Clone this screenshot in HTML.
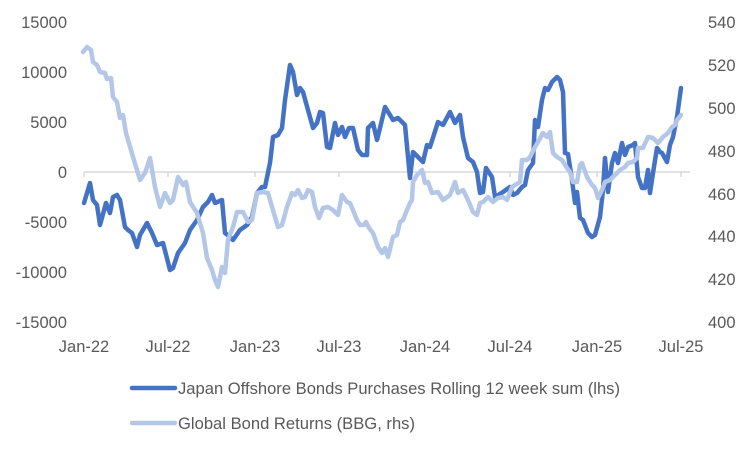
<!DOCTYPE html>
<html><head><meta charset="utf-8"><style>
html,body{margin:0;padding:0;background:#fff;}
svg{display:block;}
text{font-family:"Liberation Sans",sans-serif;fill:#595959;}
</style></head><body>
<svg width="750" height="450" viewBox="0 0 750 450" xmlns="http://www.w3.org/2000/svg">
<rect width="750" height="450" fill="#fff"/>
<g font-size="16.5" text-anchor="end">
<text x="67" y="28">15000</text>
<text x="67" y="78">10000</text>
<text x="67" y="128">5000</text>
<text x="67" y="178">0</text>
<text x="67" y="228">-5000</text>
<text x="67" y="278">-10000</text>
<text x="67" y="328">-15000</text>
</g>
<g font-size="16.5" text-anchor="start">
<text x="708" y="28">540</text>
<text x="708" y="71">520</text>
<text x="708" y="114">500</text>
<text x="708" y="157">480</text>
<text x="708" y="200">460</text>
<text x="708" y="242">440</text>
<text x="708" y="285">420</text>
<text x="708" y="328">400</text>
</g>
<g font-size="16.5" text-anchor="middle">
<text x="84" y="352">Jan-22</text>
<text x="168" y="352">Jul-22</text>
<text x="255" y="352">Jan-23</text>
<text x="339" y="352">Jul-23</text>
<text x="425" y="352">Jan-24</text>
<text x="510" y="352">Jul-24</text>
<text x="597" y="352">Jan-25</text>
<text x="681" y="352">Jul-25</text>
</g>
<g stroke="#D9D9D9" stroke-width="1.5" fill="none">
<line x1="84" y1="172" x2="690" y2="172"/>
<line x1="84" y1="172" x2="84" y2="177"/>
<line x1="168" y1="172" x2="168" y2="177"/>
<line x1="255" y1="172" x2="255" y2="177"/>
<line x1="339" y1="172" x2="339" y2="177"/>
<line x1="425" y1="172" x2="425" y2="177"/>
<line x1="510" y1="172" x2="510" y2="177"/>
<line x1="597" y1="172" x2="597" y2="177"/>
<line x1="681" y1="172" x2="681" y2="177"/>
</g>
<polyline fill="none" stroke="#4472C4" stroke-width="4.5" stroke-linejoin="round" stroke-linecap="round" points="84,203 90,183 93,200 97,205 100,225 106,203 110,213 113,197 117,195 120,200 125,227 128,230 132,233 137,247 140,235 147,223 152,233 157,245 163,243 170,270 173,268 178,253 185,243 190,230 197,220 203,207 208,202 212,195 215,203 222,200 225,233 230,237 233,240 240,230 247,225 252,217 257,193 262,187 265,187 270,163 273,137 278,135 282,128 285,100 290,65 293,72 297,95 300,88 303,92 308,110 313,128 317,123 320,112 323,113 327,147 330,148 335,123 338,135 342,127 345,137 349,128 353,128 358,150 362,155 367,155 368,128 373,123 377,140 380,128 385,107 390,115 393,120 398,118 405,125 410,178 413,152 423,162 427,145 430,147 438,122 443,125 450,112 455,123 460,115 463,137 468,158 473,162 477,172 480,193 483,192 486,168 492,177 495,197 503,192 510,187 513,195 517,193 522,187 525,185 528,170 533,163 535,120 538,127 542,100 545,88 548,90 552,82 557,77 560,80 563,92 565,153 568,154 572,180 575,203 577,192 580,218 583,220 588,233 592,237 595,235 600,217 603,190 605,158 608,192 612,163 615,153 618,163 622,143 625,155 628,147 633,145 635,143 638,177 642,188 645,188 648,170 650,193 653,173 657,148 660,152 662,153 667,162 670,145 673,137 677,117 681,88"/>
<polyline fill="none" stroke="#B4C7E7" stroke-width="4.5" stroke-linejoin="round" stroke-linecap="round" points="83,52 87,47 91,50 93,62 97,65 100,72 105,73 107,79 111,78 113,97 117,102 120,118 123,115 126,133 133,157 140,180 145,173 150,158 155,187 160,207 165,193 170,203 173,200 178,177 183,185 186,182 190,202 197,213 203,233 207,258 212,270 215,280 218,287 222,267 225,273 228,240 233,227 237,212 243,212 248,222 252,220 257,193 263,192 268,193 272,207 278,227 282,225 287,207 292,193 295,195 298,190 302,198 305,197 308,190 312,192 315,207 319,218 323,208 328,207 333,210 338,215 342,195 347,202 350,203 357,220 360,225 364,225 366,222 369,228 373,233 378,247 382,253 385,248 388,257 393,237 397,235 400,222 403,220 407,210 410,203 412,200 413,182 417,175 422,170 425,183 428,182 432,193 438,192 443,200 450,195 455,182 458,193 463,190 468,200 473,212 477,215 480,203 483,202 488,197 493,202 498,198 503,197 507,200 512,187 515,185 520,182 522,160 527,160 530,157 535,147 538,142 543,133 547,137 550,132 553,153 557,157 562,160 567,168 570,172 573,182 577,182 580,165 582,163 587,177 592,185 595,188 598,198 602,190 605,182 610,180 615,175 620,170 625,167 628,163 633,162 637,158 638,148 643,148 648,137 653,138 658,143 663,137 668,133 672,127 675,125 677,120 681,115"/>
<line x1="132" y1="388" x2="175" y2="388" stroke="#4472C4" stroke-width="4.5" stroke-linecap="round"/>
<line x1="132" y1="423" x2="175" y2="423" stroke="#B4C7E7" stroke-width="4.5" stroke-linecap="round"/>
<text x="178" y="394" font-size="16.5" textLength="442" lengthAdjust="spacingAndGlyphs">Japan Offshore Bonds Purchases Rolling 12 week sum (lhs)</text>
<text x="178" y="429" font-size="16.5" textLength="237" lengthAdjust="spacingAndGlyphs">Global Bond Returns (BBG, rhs)</text>
</svg>
</body></html>
